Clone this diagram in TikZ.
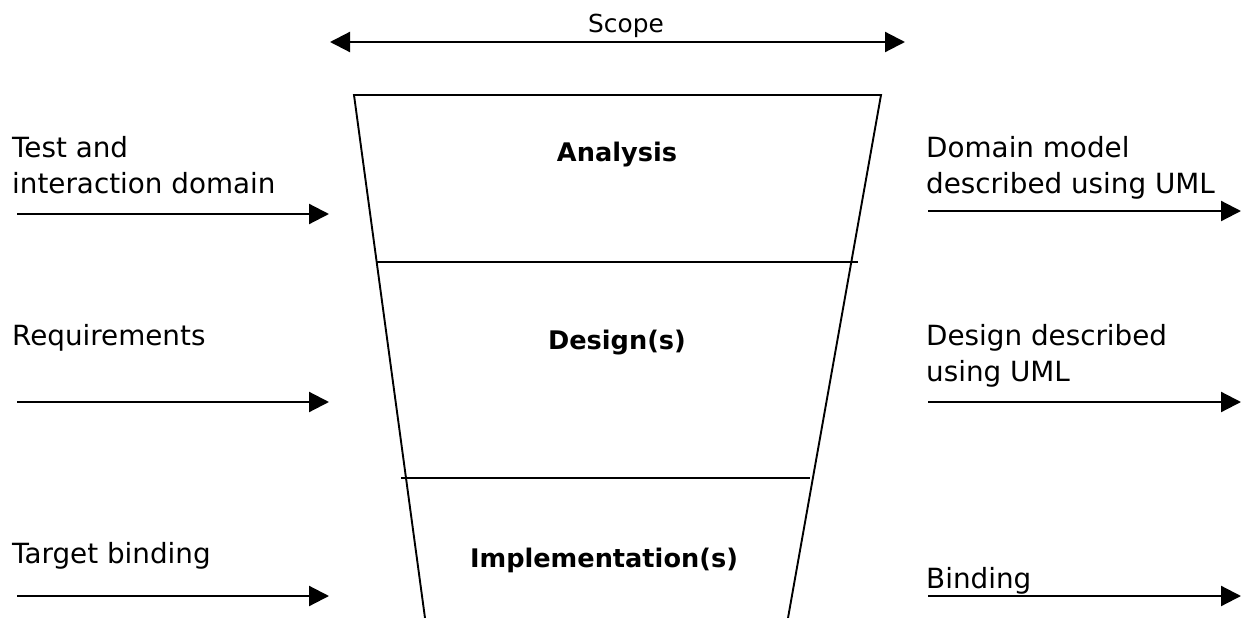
\documentclass[tikz,border=0pt]{standalone}
\usepackage{fontspec}
\setmainfont{DejaVu Sans}
\usetikzlibrary{arrows.meta}
\begin{document}
\begin{tikzpicture}[x=1pt,y=-1pt,
  flow/.style={line width=2.2pt,-{Triangle[length=20pt,width=20pt]}},
  edge/.style={line width=1.9pt},
  lbl/.style={font=\fontsize{27.8}{36}\selectfont,align=left,inner sep=0pt},
  stage/.style={font=\fontsize{25.6}{30}\selectfont\bfseries,inner sep=0pt}]
\useasboundingbox (0,0) rectangle (1242,618);
% scope
\coordinate (sL) at (330,42);
\coordinate (sR) at (905,42);
\draw[line width=2.2pt,{Triangle[length=20pt,width=20pt]}-{Triangle[length=20pt,width=20pt]}] (sL) -- (sR);
\node[font=\fontsize{24.8}{28}\selectfont,inner sep=0pt,anchor=base] (scope) at (626,33) {Scope};
% funnel
\coordinate (fBL) at (425,618);
\coordinate (fTL) at (354,95);
\coordinate (fTR) at (881,95);
\coordinate (fBR) at (788,618);
\draw[edge] (fBL) -- (fTL) -- (fTR) -- (fBR);
\coordinate (d1L) at (377,262);
\coordinate (d1R) at (858,262);
\coordinate (d2L) at (401,478);
\coordinate (d2R) at (810,478);
\draw[edge] (d1L) -- (d1R);
\draw[edge] (d2L) -- (d2R);
% stage labels
\node[stage,anchor=base] (ana) at (617,161) {Analysis};
\node[stage,anchor=base] (des) at (617,349) {Design(s)};
\node[stage,anchor=base] (imp) at (604,567) {Implementation(s)};
% left labels (base = last line)
\node[lbl,anchor=base west] (l1) at (12,193) {Test and\\interaction domain};
\node[lbl,anchor=base west] (l2) at (12,345) {Requirements};
\node[lbl,anchor=base west] (l3) at (12,563) {Target binding};
% right labels
\node[lbl,anchor=base west] (r1) at (926,193) {Domain model\\described using UML};
\node[lbl,anchor=base west] (r2) at (926,381) {Design described\\using UML};
\node[lbl,anchor=base west] (r3) at (926,588) {Binding};
% arrows
\coordinate (a1s) at (17,214); \coordinate (a1e) at (329,214);
\coordinate (a2s) at (17,402); \coordinate (a2e) at (329,402);
\coordinate (a3s) at (17,596); \coordinate (a3e) at (329,596);
\coordinate (b1s) at (928,211); \coordinate (b1e) at (1241,211);
\coordinate (b2s) at (928,402); \coordinate (b2e) at (1241,402);
\coordinate (b3s) at (928,596); \coordinate (b3e) at (1241,596);
\draw[flow] (a1s) -- (a1e);
\draw[flow] (a2s) -- (a2e);
\draw[flow] (a3s) -- (a3e);
\draw[flow] (b1s) -- (b1e);
\draw[flow] (b2s) -- (b2e);
\draw[flow] (b3s) -- (b3e);
\end{tikzpicture}
\end{document}
